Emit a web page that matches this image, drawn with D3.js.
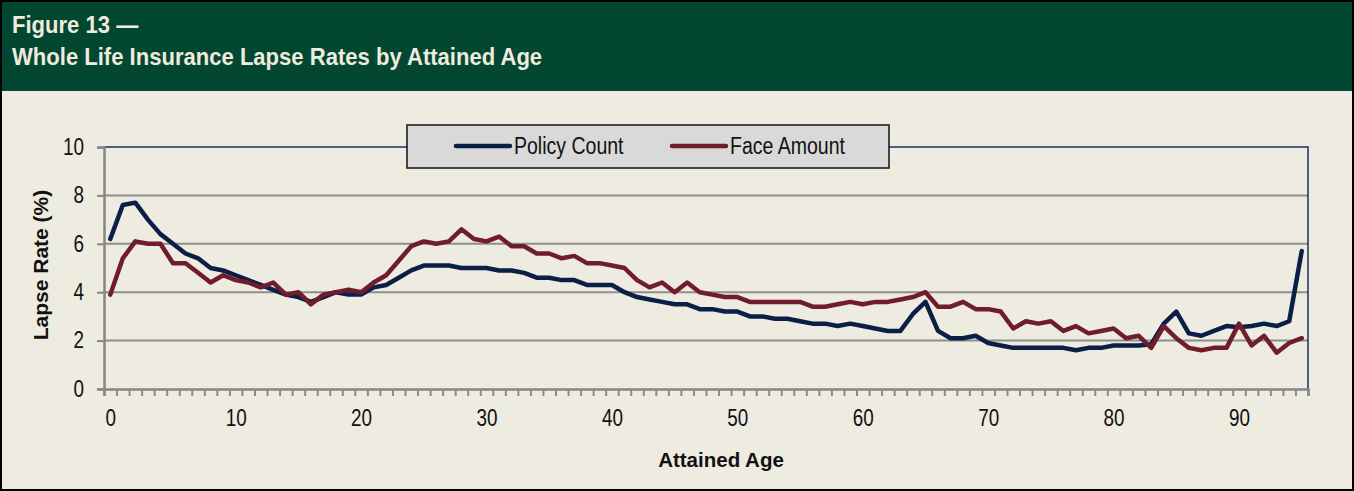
<!DOCTYPE html>
<html>
<head>
<meta charset="utf-8">
<script src="https://cdn.jsdelivr.net/npm/d3@7"></script>
<style>
  body { margin: 0; background: #eeebe0; }
  svg { display: block; font-family: "Liberation Sans", Arial, sans-serif; }
</style>
</head>
<body>
<div class="chart"></div>
<script>
// attained age 0..95
const ages = d3.range(0, 96);

const policyCount = [
  6.2, 7.6, 7.7, 7.0, 6.4, 6.0, 5.6, 5.4, 5.0, 4.9,
  4.7, 4.5, 4.3, 4.1, 3.9, 3.8, 3.6, 3.8, 4.0, 3.9,
  3.9, 4.2, 4.3, 4.6, 4.9, 5.1, 5.1, 5.1, 5.0, 5.0,
  5.0, 4.9, 4.9, 4.8, 4.6, 4.6, 4.5, 4.5, 4.3, 4.3,
  4.3, 4.0, 3.8, 3.7, 3.6, 3.5, 3.5, 3.3, 3.3, 3.2,
  3.2, 3.0, 3.0, 2.9, 2.9, 2.8, 2.7, 2.7, 2.6, 2.7,
  2.6, 2.5, 2.4, 2.4, 3.1, 3.6, 2.4, 2.1, 2.1, 2.2,
  1.9, 1.8, 1.7, 1.7, 1.7, 1.7, 1.7, 1.6, 1.7, 1.7,
  1.8, 1.8, 1.8, 1.85, 2.7, 3.2, 2.3, 2.2, 2.4, 2.6,
  2.55, 2.6, 2.7, 2.6, 2.8, 5.7
];

const faceAmount = [
  3.9, 5.4, 6.1, 6.0, 6.0, 5.2, 5.2, 4.8, 4.4, 4.7,
  4.5, 4.4, 4.2, 4.4, 3.9, 4.0, 3.5, 3.9, 4.0, 4.1,
  4.0, 4.4, 4.7, 5.3, 5.9, 6.1, 6.0, 6.1, 6.6, 6.2,
  6.1, 6.3, 5.9, 5.9, 5.6, 5.6, 5.4, 5.5, 5.2, 5.2,
  5.1, 5.0, 4.5, 4.2, 4.4, 4.0, 4.4, 4.0, 3.9, 3.8,
  3.8, 3.6, 3.6, 3.6, 3.6, 3.6, 3.4, 3.4, 3.5, 3.6,
  3.5, 3.6, 3.6, 3.7, 3.8, 4.0, 3.4, 3.4, 3.6, 3.3,
  3.3, 3.2, 2.5, 2.8, 2.7, 2.8, 2.4, 2.6, 2.3, 2.4,
  2.5, 2.1, 2.2, 1.7, 2.6, 2.1, 1.7, 1.6, 1.7, 1.7,
  2.7, 1.8, 2.2, 1.5, 1.9, 2.1
];

const seriesNames = ["Policy Count", "Face Amount"];
const seriesColors = ["#0b1e47", "#6f1d2b"];
const yTicks = [0, 2, 4, 6, 8, 10];
const xTickLabels = [0, 10, 20, 30, 40, 50, 60, 70, 80, 90];

const outerWidth = 1354;
const outerHeight = 491;
const plot = {left: 104, right: 1308, top: 147, bottom: 389};

// squeeze text horizontally (no narrow font installed)
function condense(sel, f) {
  sel.each(function() {
    const w = this.getComputedTextLength();
    d3.select(this)
      .attr("textLength", w * f)
      .attr("lengthAdjust", "spacingAndGlyphs");
  });
}

const svg = d3.select(".chart")
  .append("svg")
  .attr("width", outerWidth)
  .attr("height", outerHeight);

// header
svg.append("rect")
  .attr("x", 0).attr("y", 0)
  .attr("width", outerWidth).attr("height", 91)
  .attr("fill", "#014732");

const titleLines = ["Figure 13 \u2014", "Whole Life Insurance Lapse Rates by Attained Age"];
const titleText = svg.selectAll(".title")
  .data(titleLines)
  .join("text")
    .attr("class", "title")
    .attr("x", 12)
    .attr("y", (d, i) => 33 + i * 32)
    .attr("fill", "#efebdd")
    .attr("font-weight", "bold")
    .attr("font-size", 24.5)
    .text(d => d);
condense(titleText, 0.9);

// scales
const xScale = d3.scaleLinear()
  .domain([-0.5, 95.5])
  .range([plot.left, plot.right]);

const yScale = d3.scaleLinear()
  .domain([0, 10])
  .range([plot.bottom, plot.top]);

// gridlines
svg.append("g")
  .selectAll("line")
  .data(yTicks.filter(d => d > 0 && d < 10))
  .join("line")
    .attr("x1", plot.left).attr("x2", plot.right)
    .attr("y1", d => yScale(d)).attr("y2", d => yScale(d))
    .attr("stroke", "#8e8e8e")
    .attr("stroke-width", 2);

// plot border (top / right)
svg.append("path")
  .attr("d", `M${plot.left},${yScale(10)}H${plot.right}V${plot.bottom}`)
  .attr("fill", "none")
  .attr("stroke", "#1b2f5e")
  .attr("stroke-width", 1.5);

// y axis
const yAxis = d3.axisLeft(yScale)
  .tickValues(yTicks)
  .tickSize(7)
  .tickPadding(13);

const gy = svg.append("g")
  .attr("transform", `translate(${plot.left},0)`)
  .call(yAxis);
gy.select(".domain").attr("stroke", "#868686").attr("stroke-width", 2.5);
gy.selectAll(".tick line").attr("stroke", "#868686").attr("stroke-width", 2);
gy.selectAll(".tick text")
  .attr("font-family", null)
  .attr("font-size", 23)
  .attr("fill", "#111");
condense(gy.selectAll(".tick text"), 0.82);

// x axis: tick marks between categories
const xTicksAxis = d3.axisBottom(xScale)
  .tickValues(d3.range(-0.5, 96, 1))
  .tickSize(7)
  .tickFormat("");

const gx = svg.append("g")
  .attr("transform", `translate(0,${plot.bottom})`)
  .call(xTicksAxis);
gx.select(".domain").attr("stroke", "#868686").attr("stroke-width", 2.5);
gx.selectAll(".tick line").attr("stroke", "#8a8a8a").attr("stroke-width", 2);

// x labels every 10 years at category centres
const xLabelAxis = d3.axisBottom(xScale)
  .tickValues(xTickLabels)
  .tickSize(0)
  .tickPadding(21);

const gxl = svg.append("g")
  .attr("transform", `translate(0,${plot.bottom})`)
  .call(xLabelAxis);
gxl.select(".domain").remove();
gxl.selectAll(".tick text")
  .attr("font-family", null)
  .attr("font-size", 23)
  .attr("fill", "#111");
condense(gxl.selectAll(".tick text"), 0.82);

// lines
const line = d3.line()
  .x((d, i) => xScale(ages[i]))
  .y(d => yScale(d));

[policyCount, faceAmount].forEach((values, k) => {
  svg.append("path")
    .datum(values)
    .attr("fill", "none")
    .attr("stroke", seriesColors[k])
    .attr("stroke-width", 4.5)
    .attr("stroke-linejoin", "round")
    .attr("stroke-linecap", "round")
    .attr("d", line);
});

// axis titles
svg.append("text")
  .attr("x", 721).attr("y", 467)
  .attr("text-anchor", "middle")
  .attr("font-weight", "bold")
  .attr("font-size", 20.5)
  .attr("fill", "#111")
  .text("Attained Age");

svg.append("text")
  .attr("transform", `translate(48,${(plot.top + plot.bottom) / 2 - 3}) rotate(-90)`)
  .attr("text-anchor", "middle")
  .attr("font-weight", "bold")
  .attr("font-size", 21)
  .attr("fill", "#111")
  .text("Lapse Rate (%)");

// legend
const legend = svg.append("g");
legend.append("rect")
  .attr("x", 407).attr("y", 125)
  .attr("width", 482).attr("height", 43)
  .attr("fill", "#d9d9d9")
  .attr("stroke", "#111")
  .attr("stroke-width", 1.5);

const legendX = [456, 672];
seriesNames.forEach((name, k) => {
  legend.append("line")
    .attr("x1", legendX[k]).attr("x2", legendX[k] + 54)
    .attr("y1", 146).attr("y2", 146)
    .attr("stroke", seriesColors[k])
    .attr("stroke-width", 4.5)
    .attr("stroke-linecap", "round");
  const t = legend.append("text")
    .attr("x", legendX[k] + 58).attr("y", 154)
    .attr("font-size", 23.5)
    .attr("fill", "#111")
    .text(name);
  condense(t, 0.83);
});

// outer frame
svg.append("rect")
  .attr("x", 1).attr("y", 1)
  .attr("width", outerWidth - 2).attr("height", outerHeight - 2)
  .attr("fill", "none")
  .attr("stroke", "#000")
  .attr("stroke-width", 2);
</script>
</body>
</html>
